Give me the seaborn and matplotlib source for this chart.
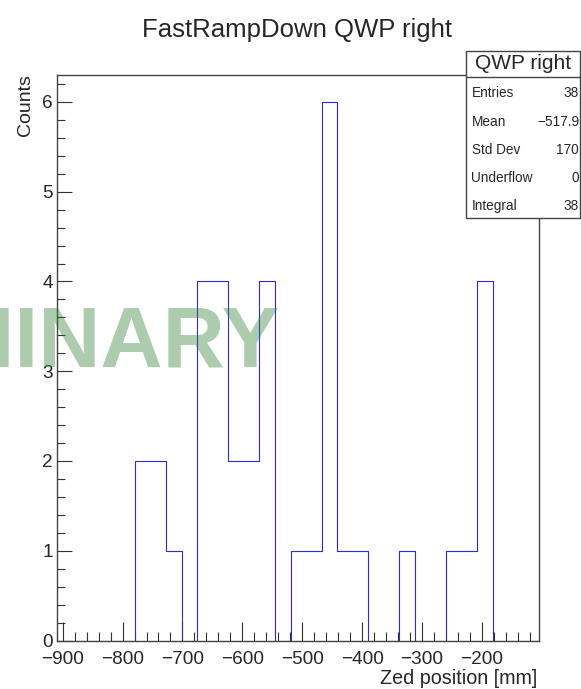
import numpy as np
import pandas as pd
import matplotlib
matplotlib.use("Agg")
import matplotlib.pyplot as plt
from matplotlib.patches import Rectangle
from matplotlib.ticker import MultipleLocator
import seaborn as sns

# === Histogram data ===
x_min, x_max = -909, -104
counts = [0, 0, 0, 0, 0, 2, 2, 1, 0, 4, 4, 2, 2, 4, 0, 1,
          1, 6, 1, 1, 0, 0, 1, 0, 0, 1, 1, 4, 0, 0, 0]
stat_names = ["Entries", "Mean", "Std Dev", "Underflow", "Integral"]
stat_values = ["38", "\u2212517.9", "170", "0", "38"]

edges = np.linspace(x_min, x_max, len(counts) + 1)
df = pd.DataFrame({"zed": 0.5 * (edges[:-1] + edges[1:]), "n": counts})

sns.set_style("ticks")
plt.rcParams["font.family"] = ["Liberation Sans", "DejaVu Sans"]

W, H = 581, 689
fig = plt.figure(figsize=(W / 100, H / 100), dpi=100)


def fx(px):
    return px / W


def fy(py):
    return 1 - py / H


ax = fig.add_axes([fx(57.3), fy(640.5), fx(539.3) - fx(57.3), fy(75) - fy(640.5)])

sns.histplot(data=df, x="zed", weights="n", bins=len(counts), binrange=(x_min, x_max),
             element="step", fill=False, color="#2b2bdb", linewidth=0.8, ax=ax)

ax.set_xlim(x_min, x_max)
ax.set_ylim(0, max(counts) * 1.05)
ax.set_xlabel("")
ax.set_ylabel("")

ax.xaxis.set_minor_locator(MultipleLocator(20))
ax.yaxis.set_major_locator(MultipleLocator(1))
ax.yaxis.set_minor_locator(MultipleLocator(0.2))
ax.set_xticks(np.arange(-900, -199, 100))
ax.set_xticklabels([f"\u2212{abs(v)}" for v in range(-900, -199, 100)])

ax.tick_params(axis="x", which="major", direction="in", length=13.4, width=0.8,
               labelsize=13.7, pad=7.2, color="#333333")
ax.tick_params(axis="x", which="minor", direction="in", length=6.7, width=0.8, color="#333333")
ax.tick_params(axis="y", which="major", direction="in", length=10.8, width=0.8,
               labelsize=13.7, pad=3.3, color="#333333")
ax.tick_params(axis="y", which="minor", direction="in", length=5.5, width=0.8, color="#333333")
for s in ax.spines.values():
    s.set_visible(True)
    s.set_color("#444444")
    s.set_linewidth(1.0)

# ============ Titles and labels ============
fig.text(fx(297), fy(37), "FastRampDown QWP right", ha="center", va="baseline", fontsize=18.5)
fig.text(fx(537), fy(683.5), "Zed position [mm]", ha="right", va="baseline", fontsize=14.2)
fig.text(fx(25.5), fy(74), "Counts", rotation=90, ha="center", va="top", fontsize=14)

# ============ Watermark ============
fig.text(fx(279), fy(366.7), "PRELIMINARY", ha="right", va="baseline", fontsize=62,
         fontweight="bold", color="#338033", alpha=0.4)

# ============ Stats box ============
box_l, box_r, box_t, box_b, sep = 466, 580, 50.7, 218, 76.7
fig.add_artist(Rectangle((fx(box_l), fy(box_b)), fx(box_r) - fx(box_l), fy(box_t) - fy(box_b),
                         transform=fig.transFigure, facecolor="white", edgecolor="#444444",
                         linewidth=1.0, zorder=5))
fig.add_artist(plt.Line2D([fx(box_l), fx(box_r)], [fy(sep), fy(sep)], transform=fig.transFigure,
                          color="#444444", linewidth=1.0, zorder=6))
fig.text(fx((box_l + box_r) / 2), fy(63.3), "QWP right", ha="center", va="center",
         fontsize=15, zorder=7)
row_y = [93.3, 121.7, 150, 178.3, 206]
for name, val, yy in zip(stat_names, stat_values, row_y):
    fig.text(fx(471.5), fy(yy), name, ha="left", va="center", fontsize=9.8, zorder=7)
    fig.text(fx(579), fy(yy), val, ha="right", va="center", fontsize=9.8, zorder=7)

fig.savefig("out.png", dpi=100)
